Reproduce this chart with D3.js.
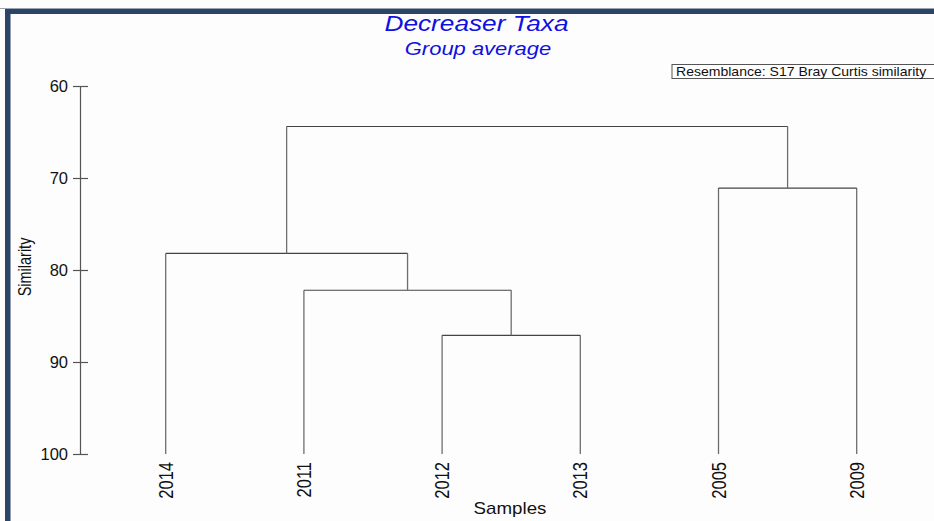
<!DOCTYPE html>
<html>
<head>
<meta charset="utf-8">
<script src="https://cdn.jsdelivr.net/npm/d3@7"></script>
<style>
  html, body { margin: 0; padding: 0; background: #ffffff; }
  svg { display: block; }
</style>
</head>
<body>
<svg id="chart" width="934" height="521"></svg>
<script>
// Sample labels in leaf order (left to right)
const samples = ["2014", "2011", "2012", "2013", "2005", "2009"];
// Agglomeration steps: [left node, right node, similarity at merge]
// Nodes 0-5 are the samples; each merge creates node 6, 7, ...
const merges = [
  [2, 3, 87.1],
  [1, 6, 82.2],
  [0, 7, 78.2],
  [4, 5, 71.1],
  [8, 9, 64.4]
];
const yTicks = [60, 70, 80, 90, 100];
const title = "Decreaser Taxa";
const subtitle = "Group average";
const resemblance = "Resemblance: S17 Bray Curtis similarity";

const svg = d3.select("#chart");
const W = 934, H = 521;
const font = "Arial, 'Liberation Sans', sans-serif";
const wide = 1.22; // horizontal stretch of the text glyphs

// Page background and frame
svg.append("rect").attr("width", W).attr("height", H).attr("fill", "#fdfdfd");
svg.append("rect").attr("x", 0).attr("y", 8).attr("width", W).attr("height", 1).attr("fill", "#9aa6b4");
svg.append("rect").attr("x", 5).attr("y", 9).attr("width", W - 5).attr("height", 5).attr("fill", "#2b4468");
svg.append("rect").attr("x", 5).attr("y", 9).attr("width", 5.5).attr("height", H - 9).attr("fill", "#2b4468");

const x = d3.scalePoint().domain(samples).range([165.7, 856.7]);
const y = d3.scaleLinear().domain([60, 100]).range([86, 454]);

// Node positions
const nodes = samples.map(s => ({ x: x(s), sim: 100 }));
merges.forEach(([a, b, sim]) => {
  nodes.push({ x: (nodes[a].x + nodes[b].x) / 2, sim });
});

const g = svg.append("g");
const hColor = "#444", vColor = "#6e6e6e";
merges.forEach(([a, b, sim]) => {
  const na = nodes[a], nb = nodes[b];
  [na, nb].forEach(n => {
    g.append("line")
      .attr("x1", n.x).attr("x2", n.x)
      .attr("y1", y(n.sim)).attr("y2", y(sim))
      .attr("stroke", vColor).attr("stroke-width", 1.3);
  });
  g.append("line")
    .attr("x1", na.x).attr("x2", nb.x)
    .attr("y1", y(sim)).attr("y2", y(sim))
    .attr("stroke", hColor).attr("stroke-width", 1.2);
});

// Similarity axis
const axis = d3.axisLeft(y).tickValues(yTicks).tickSizeInner(7).tickSizeOuter(0).tickPadding(5);
const ax = svg.append("g").attr("transform", "translate(80,0)").call(axis);
ax.select(".domain").attr("stroke", "#555").attr("stroke-width", 1.2);
ax.selectAll(".tick line").attr("stroke", "#555").attr("stroke-width", 1.2).attr("x2", -7);
ax.selectAll(".tick").append("line")
  .attr("x1", 0).attr("x2", 8).attr("stroke", "#555").attr("stroke-width", 1.2);
ax.selectAll(".tick text")
  .attr("font-family", font)
  .attr("font-size", 16.5).attr("fill", "#111");

// Sample labels
svg.append("g").selectAll("text").data(samples).join("text")
  .attr("transform", d => `translate(${x(d) + 7},${462}) rotate(-90) scale(1,1.25)`)
  .attr("text-anchor", "end")
  .attr("font-family", font)
  .attr("font-size", 16.5)
  .attr("fill", "#111")
  .text(d => d);

// Axis titles
svg.append("text")
  .attr("transform", "translate(31,267) rotate(-90) scale(1,1.22)")
  .attr("text-anchor", "middle")
  .attr("font-family", font)
  .attr("font-size", 14.5).attr("fill", "#111")
  .text("Similarity");
svg.append("text")
  .attr("transform", `translate(510,514) scale(1.17,1)`)
  .attr("text-anchor", "middle")
  .attr("font-family", font)
  .attr("font-size", 16).attr("fill", "#111")
  .text("Samples");

// Titles
svg.append("text")
  .attr("transform", `translate(476.5,31) scale(${wide},1)`)
  .attr("text-anchor", "middle")
  .attr("font-family", font)
  .attr("font-style", "italic")
  .attr("font-size", 21.5).attr("fill", "#1010e0")
  .text(title);
svg.append("text")
  .attr("transform", `translate(478,55) scale(${wide},1)`)
  .attr("text-anchor", "middle")
  .attr("font-family", font)
  .attr("font-style", "italic")
  .attr("font-size", 18).attr("fill", "#1010e0")
  .text(subtitle);

// Resemblance caption box
svg.append("rect")
  .attr("x", 672).attr("y", 64.5).attr("width", 270).attr("height", 14)
  .attr("fill", "#ffffff").attr("stroke", "#555").attr("stroke-width", 1);
svg.append("text")
  .attr("transform", `translate(676,75.5) scale(1.17,1)`)
  .attr("font-family", font)
  .attr("font-size", 12).attr("fill", "#111")
  .text(resemblance);
</script>
</body>
</html>
